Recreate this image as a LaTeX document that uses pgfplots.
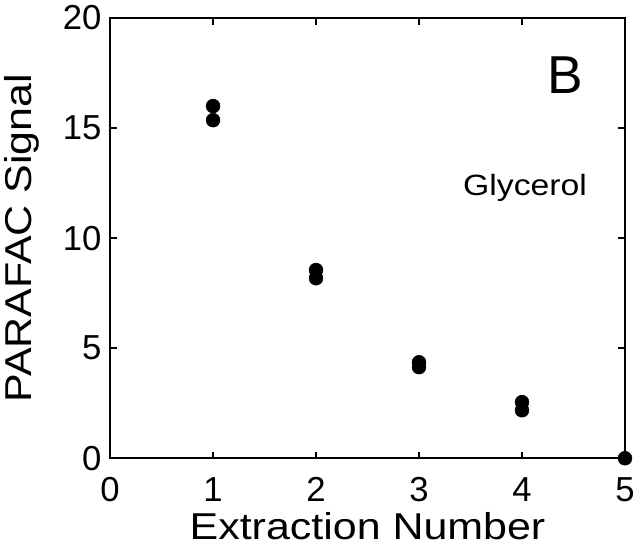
\documentclass[border=0pt]{standalone}
\usepackage{pgfplots}
\pgfplotsset{compat=1.18}
\usepackage{fontspec}
\setmainfont{Liberation Sans}
\newfontfamily\wide[FakeStretch=1.15]{Liberation Sans}
\begin{document}
\begin{tikzpicture}
\begin{axis}[
  name=ax,
  scale only axis,
  width=386pt, height=330pt,
  xmin=0, xmax=5, ymin=0, ymax=20,
  xtick={0,1,2,3,4,5}, ytick={0,5,10,15,20},
  tick align=inside,
  major tick length=5pt,
  axis line style={line width=1.5pt},
  every tick/.style={line width=1.5pt, black},
  tick label style={font=\fontsize{26}{26}\selectfont},
  xticklabel style={yshift=-11pt},
  yticklabel style={xshift=-3pt},
  /pgf/number format/assume math mode=true,
  xlabel={Extraction Number},
  ylabel={PARAFAC Signal},
  label style={font=\wide\fontsize{28}{28}\selectfont},
  xlabel style={yshift=-0.5pt},
  ylabel style={yshift=11pt},
  clip=false,
]
\addplot[only marks, mark=*, mark size=5.2pt, black] coordinates {
  (1,16.0) (1,15.36) (2,8.55) (2,8.18) (3,4.36) (3,4.14) (4,2.55) (4,2.18) (5,0)
};
\node at (axis cs:4.42,17.4) {\fontsize{40}{40}\selectfont B};
\node at (axis cs:4.03,12.3) {\wide\fontsize{22}{22}\selectfont Glycerol};
\end{axis}
\pgfresetboundingbox
\path[use as bounding box] (ax.south west) ++(-82.5pt,-66.75pt) rectangle ([xshift=12pt,yshift=13.5pt]ax.north east);
\end{tikzpicture}
\end{document}
